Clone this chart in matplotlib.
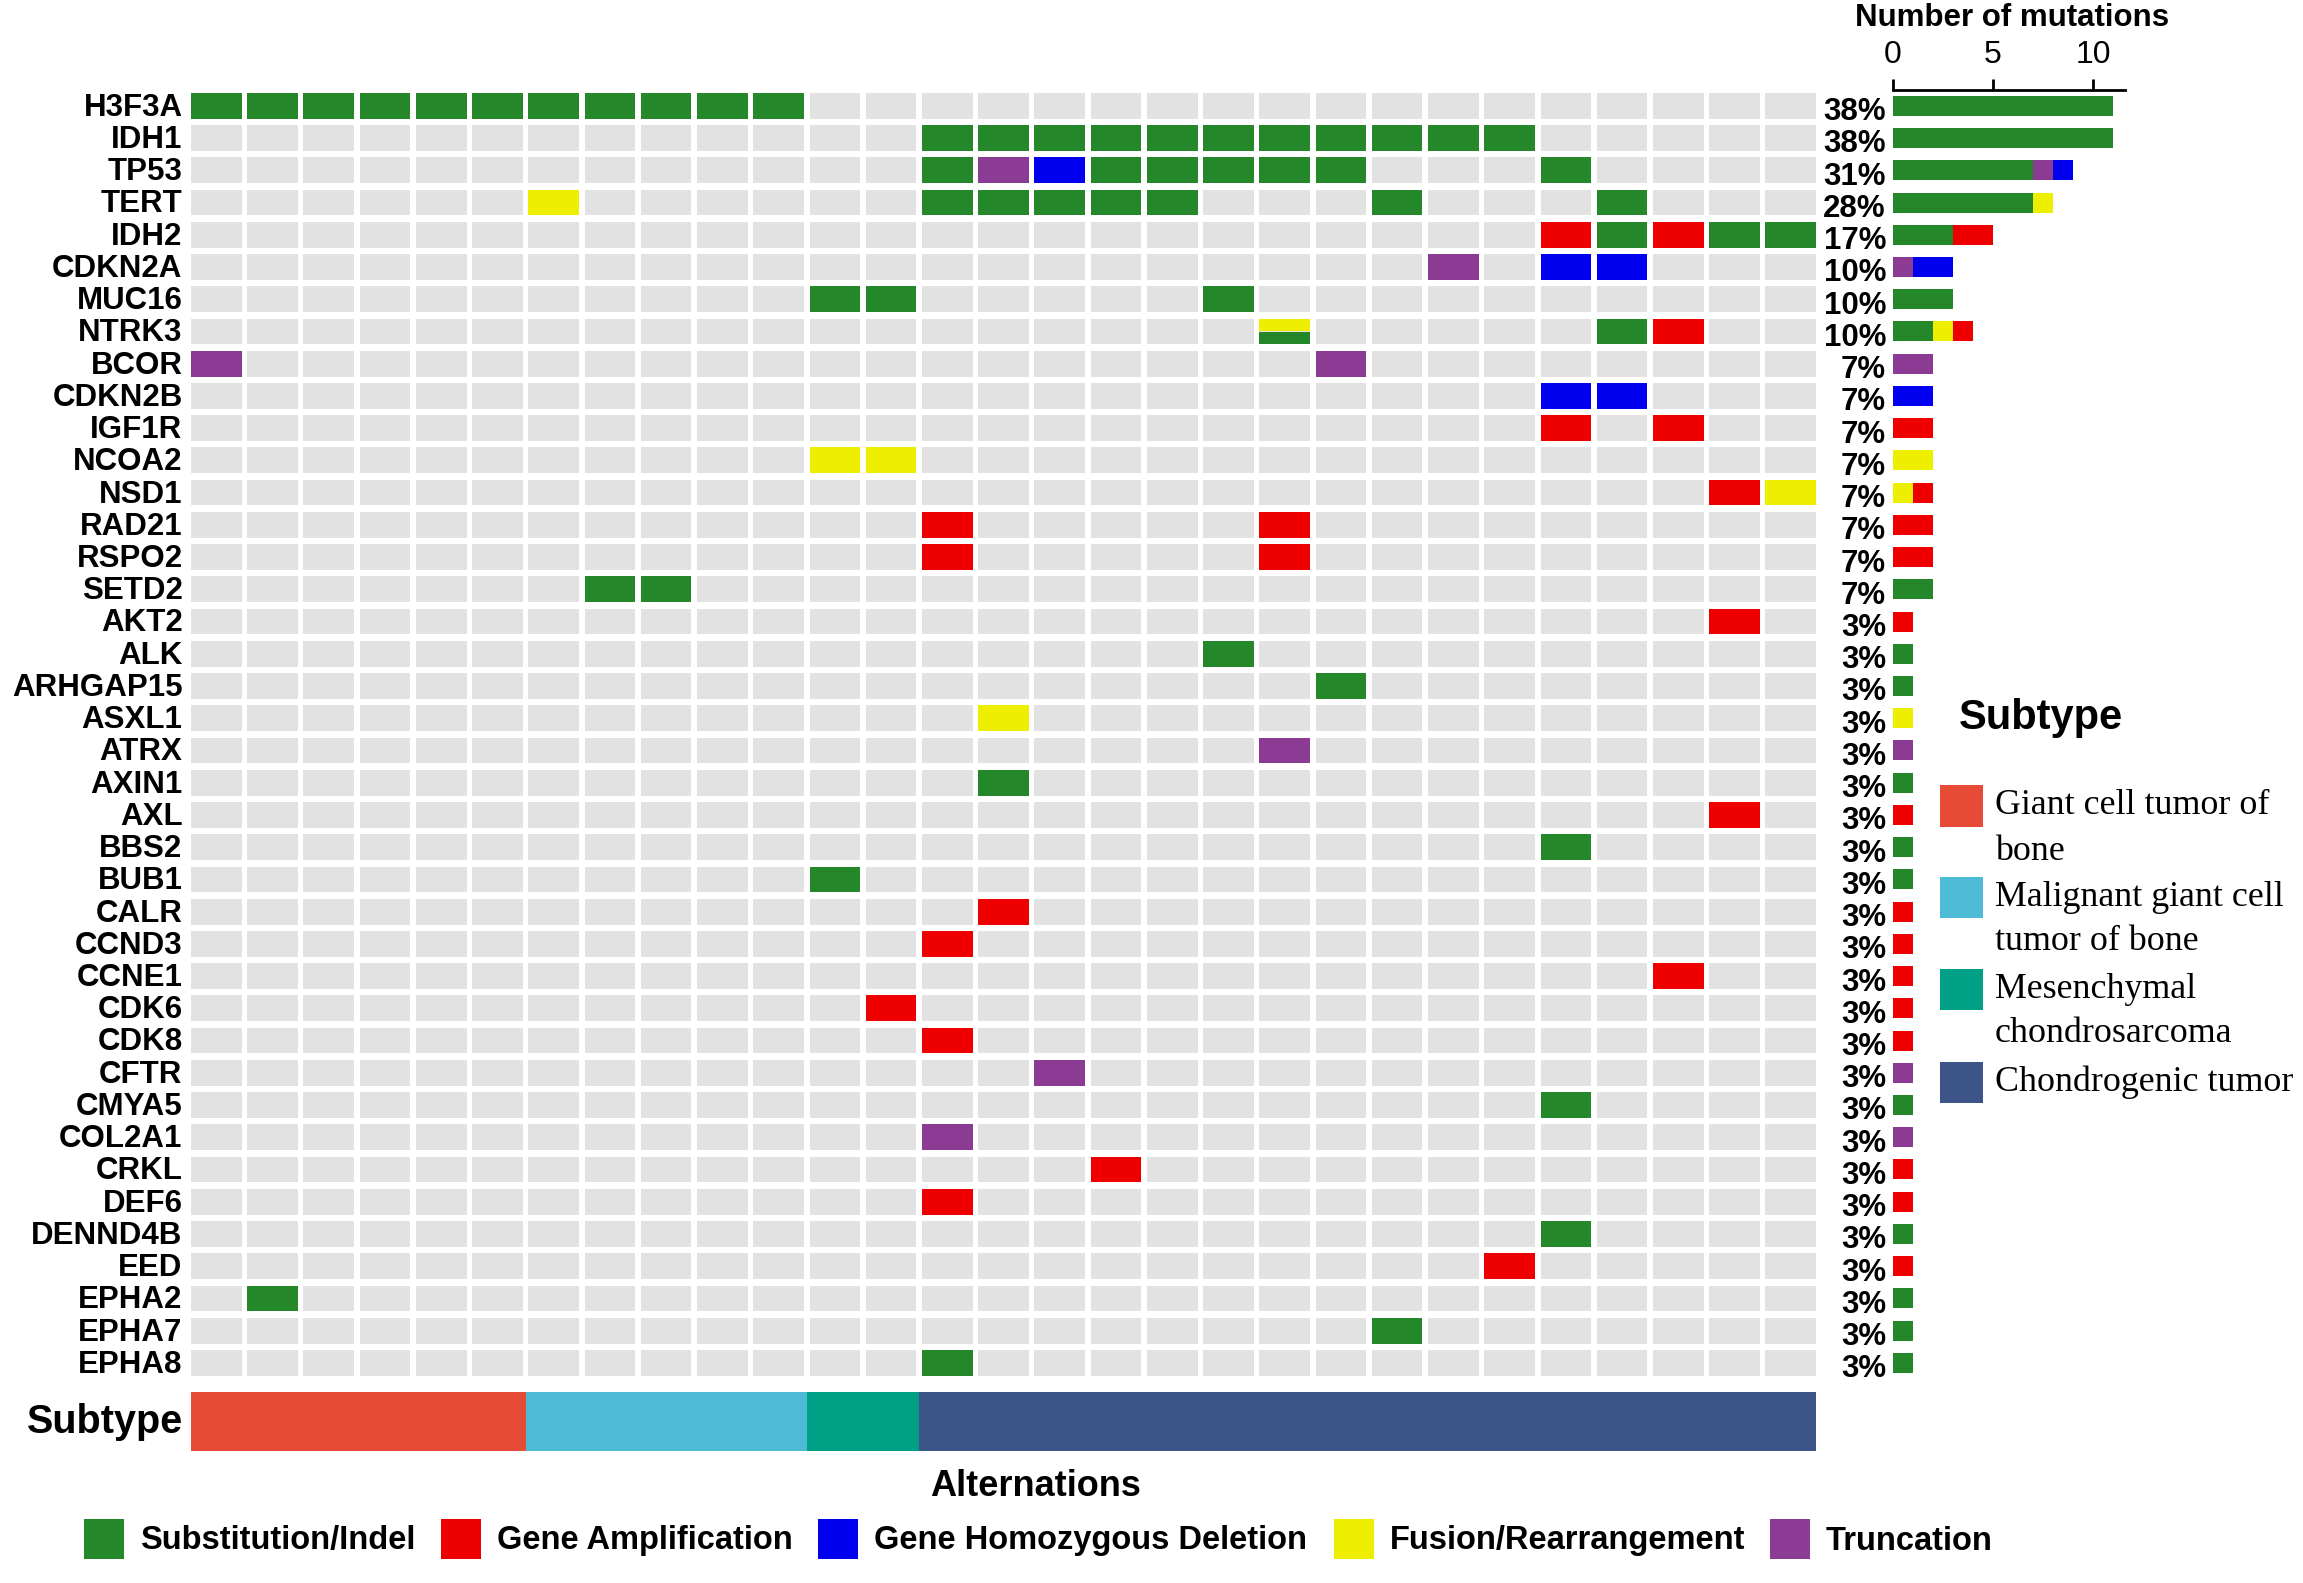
import numpy as np
import matplotlib.pyplot as plt
from matplotlib.patches import Rectangle

plt.rcParams['font.family'] = ['Liberation Sans', 'DejaVu Sans']

genes = ["H3F3A", "IDH1", "TP53", "TERT", "IDH2", "CDKN2A", "MUC16", "NTRK3",
         "BCOR", "CDKN2B", "IGF1R", "NCOA2", "NSD1", "RAD21", "RSPO2", "SETD2",
         "AKT2", "ALK", "ARHGAP15", "ASXL1", "ATRX", "AXIN1", "AXL", "BBS2",
         "BUB1", "CALR", "CCND3", "CCNE1", "CDK6", "CDK8", "CFTR", "CMYA5",
         "COL2A1", "CRKL", "DEF6", "DENND4B", "EED", "EPHA2", "EPHA7", "EPHA8"]
n_samples = 29

subtype_names = ["Giant cell tumor of\nbone", "Malignant giant cell\ntumor of bone",
                 "Mesenchymal\nchondrosarcoma", "Chondrogenic tumor"]
subtype_counts = [6, 5, 2, 16]

# (gene, sample columns) for every alteration type
substitution = [("H3F3A", [0, 1, 2, 3, 4, 5, 6, 7, 8, 9, 10]),
                ("IDH1", [13, 14, 15, 16, 17, 18, 19, 20, 21, 22, 23]),
                ("TP53", [13, 16, 17, 18, 19, 20, 24]),
                ("TERT", [13, 14, 15, 16, 17, 21, 25]),
                ("IDH2", [25, 27, 28]),
                ("MUC16", [11, 12, 18]),
                ("NTRK3", [19, 25]),
                ("SETD2", [7, 8]),
                ("ALK", [18]),
                ("ARHGAP15", [20]),
                ("AXIN1", [14]),
                ("BBS2", [24]),
                ("BUB1", [11]),
                ("CMYA5", [24]),
                ("DENND4B", [24]),
                ("EPHA2", [1]),
                ("EPHA7", [21]),
                ("EPHA8", [13])]
amplification = [("IDH2", [24, 26]),
                 ("NTRK3", [26]),
                 ("IGF1R", [24, 26]),
                 ("NSD1", [27]),
                 ("RAD21", [13, 19]),
                 ("RSPO2", [13, 19]),
                 ("AKT2", [27]),
                 ("AXL", [27]),
                 ("CALR", [14]),
                 ("CCND3", [13]),
                 ("CCNE1", [26]),
                 ("CDK6", [12]),
                 ("CDK8", [13]),
                 ("CRKL", [16]),
                 ("DEF6", [13]),
                 ("EED", [23])]
deletion = [("TP53", [15]),
            ("CDKN2A", [24, 25]),
            ("CDKN2B", [24, 25])]
fusion = [("TERT", [6]),
          ("NTRK3", [19]),
          ("NCOA2", [11, 12]),
          ("NSD1", [28]),
          ("ASXL1", [14])]
truncation = [("TP53", [14]),
              ("CDKN2A", [22]),
              ("BCOR", [0, 20]),
              ("ATRX", [19]),
              ("CFTR", [15]),
              ("COL2A1", [13])]

alt_names = ["Substitution/Indel", "Gene Amplification", "Gene Homozygous Deletion",
             "Fusion/Rearrangement", "Truncation"]
alt_data = [substitution, amplification, deletion, fusion, truncation]

#### styling
alt_colors = ['#24882A', '#EE0000', '#0000EE', '#EEEE00', '#8C3B95']
subtype_colors = ['#E64B35', '#4DBBD5', '#00A087', '#3C5488']
cell_gray = '#E2E2E2'
bar_order = [0, 3, 4, 1, 2]    # green, yellow, purple, red, blue
split_order = [3, 4, 1, 2, 0]  # top to bottom inside a shared cell

W, H = 2303, 1583
fig = plt.figure(figsize=(W / 100, H / 100), dpi=100)


def fx(px):
    return px / W


def fy(py):
    return 1 - py / H


grid_left, grid_right = 188.2, 1818.9
grid_top, grid_bot = 89.7, 1379.0
n_genes = len(genes)

# per gene, per sample: list of alteration types
cells = {}
for k, lst in enumerate(alt_data):
    for g, cols in lst:
        for c in cols:
            cells.setdefault((genes.index(g), c), []).append(k)

#### main grid
ax = fig.add_axes([fx(grid_left), fy(grid_bot), fx(grid_right - grid_left),
                   (grid_bot - grid_top) / H])
ax.set_xlim(0, n_samples)
ax.set_ylim(n_genes, 0)
ax.axis('off')

for i, g in enumerate(genes):
    for j in range(n_samples):
        ax.add_patch(Rectangle((j + 0.05, i + 0.1), 0.9, 0.8, facecolor=cell_gray,
                               edgecolor='none'))
    ax.text(-0.1, i + 0.56, g, ha='right', va='center', fontsize=22.5,
            fontweight='bold')

for (i, j), kinds in cells.items():
    kinds = sorted(kinds, key=split_order.index)
    h = 0.8 / len(kinds)
    for m, k in enumerate(kinds):
        gap = 0.02 if len(kinds) > 1 else 0
        ax.add_patch(Rectangle((j + 0.05, i + 0.1 + m * h + gap / 2), 0.9, h - gap,
                               facecolor=alt_colors[k], edgecolor='none'))

#### right bar chart
ax2 = fig.add_axes([fx(1893), fy(grid_bot), fx(2125 - 1893), (grid_bot - grid_top) / H])
ax2.set_xlim(0, 11.6)
ax2.set_ylim(n_genes, 0)
for s in ['left', 'right', 'bottom']:
    ax2.spines[s].set_visible(False)
ax2.spines['top'].set_linewidth(2)
ax2.xaxis.tick_top()
ax2.set_xticks([0, 5, 10])
ax2.tick_params(axis='x', direction='out', length=8, width=2, labelsize=23, pad=6)
ax2.set_yticks([])

for i, g in enumerate(genes):
    counts = np.zeros(len(alt_data))
    altered = set()
    for k, lst in enumerate(alt_data):
        for gg, cols in lst:
            if gg == g:
                counts[k] += len(cols)
                altered.update(cols)
    left = 0
    for k in bar_order:
        if counts[k] > 0:
            ax2.barh(i + 0.5, counts[k], left=left, height=0.62,
                     color=alt_colors[k], edgecolor='none')
            left += counts[k]
    pct = round(100 * len(altered) / n_samples)
    ax2.text(-0.35, i + 0.7, f"{pct}%", ha='right', va='center', fontsize=22.5,
             fontweight='bold', clip_on=False)

fig.text(fx(2012), fy(17.6), "Number of mutations", ha='center', va='center',
         fontsize=22.5, fontweight='bold')

#### subtype bar
axs = fig.add_axes([fx(grid_left), fy(1451), fx(grid_right - grid_left), 59 / H])
axs.set_xlim(0, n_samples)
axs.set_ylim(0, 1)
axs.axis('off')
start = 0
for n, col in zip(subtype_counts, subtype_colors):
    x0 = max(start, 0.05)
    x1 = min(start + n, n_samples - 0.05)
    axs.add_patch(Rectangle((x0, 0), x1 - x0, 1, facecolor=col, edgecolor='none'))
    start += n

fig.text(fx(183.6), fy(1422), "Subtype", ha='right', va='center', fontsize=28.5,
         fontweight='bold')

#### subtype legend (right)
fig.text(fx(1959), fy(718), "Subtype", ha='left', va='center', fontsize=30,
         fontweight='bold')
for name, col, cy in zip(subtype_names, subtype_colors, [806, 897, 989, 1082]):
    fig.add_artist(Rectangle((fx(1940), fy(cy + 20.5)), fx(43), 41 / H,
                             transform=fig.transFigure, facecolor=col, edgecolor='none'))
    for m, line in enumerate(name.split('\n')):
        fig.text(fx(1995), fy(cy + 45 * m), line, ha='left', va='center',
                 fontsize=25.8, family=['Liberation Serif', 'DejaVu Serif'])

#### alteration legend (bottom)
fig.text(fx(1035.5), fy(1486), "Alternations", ha='center', va='center',
         fontsize=26, fontweight='bold')
legend_x = [83.7, 440.6, 818.1, 1333.6, 1769.9]
cy = 1539
for name, col, x in zip(alt_names, alt_colors, legend_x):
    fig.add_artist(Rectangle((fx(x), fy(cy + 20)), fx(40), 40 / H,
                             transform=fig.transFigure, facecolor=col, edgecolor='none'))
    fig.text(fx(x + 56), fy(cy + 2), name, ha='left', va='center', fontsize=23.5,
             fontweight='bold')

fig.savefig('out.png', dpi=100)
